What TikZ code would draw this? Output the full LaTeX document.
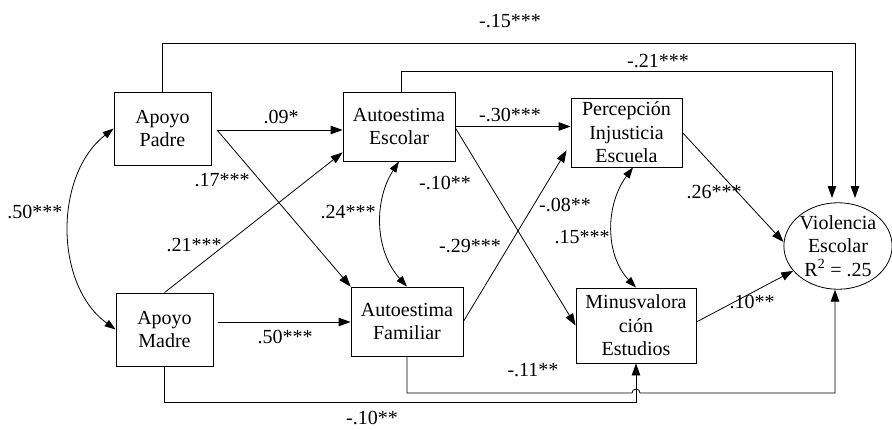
\documentclass[tikz,border=0pt]{standalone}
\usepackage{fontspec}
\setmainfont{Liberation Serif}
\usetikzlibrary{arrows.meta,calc,shapes.geometric}
\begin{document}
\begin{tikzpicture}[x=1pt,y=-1pt,
  txt/.style={font=\fontsize{20}{23.5}\selectfont},
  box/.style={draw, line width=0.8pt, align=center, inner sep=0pt, txt},
  lbl/.style={inner sep=0pt, txt},
  arr/.style={line width=0.8pt, -{Triangle[length=12pt,width=8.5pt]}},
  darr/.style={line width=0.8pt, {Triangle[length=11pt,width=7.5pt]}-{Triangle[length=11pt,width=7.5pt]}}
]
\useasboundingbox (0,0) rectangle (892,429);

% nodes
\node[box, minimum width=97pt, minimum height=73pt] (AP) at (162.5,128.5) {Apoyo\\Padre};
\node[box, minimum width=112pt, minimum height=69pt] (AE) at (399,126.5) {Autoestima\\Escolar};
\node[box, minimum width=111pt, minimum height=69pt] (PI) at (626.5,132.5) {Percepción\\Injusticia\\Escuela};
\node[box, minimum width=97pt, minimum height=73pt] (AM) at (164.5,329.5) {Apoyo\\Madre};
\node[box, minimum width=112pt, minimum height=69pt] (AF) at (407,321.5) {Autoestima\\Familiar};
\node[box, minimum width=120pt, minimum height=75pt] (MV) at (636,325.5) {Minusvalora\\ción\\Estudios};
\node[box, ellipse, minimum width=98pt, minimum height=82pt] (VE) at (838,246) {Violencia\\Escolar\\R\textsuperscript{2} = .25};

% helper coordinates
\coordinate (ap1) at (217,130);
\coordinate (am1) at (218,322);
\coordinate (t15) at (855,43);
\coordinate (e15) at (855,198);
\coordinate (t21) at (832,71);
\coordinate (e21) at (832,198);
\coordinate (b10) at (636,402);
\coordinate (hopL) at (632,393);
\coordinate (b11) at (835,393);

% straight paths
\draw[arr] (ap1) -- (ap1 -| AE.west);
\draw[arr] (ap1) -- (AF.north west);
\draw[arr] (am1) -- (am1 -| AF.west);
\draw[arr] (AM.north) -- ([yshift=9pt]AE.south west);
\draw[arr] (AE.east) -- (AE.east -| PI.west);
\draw[arr] ([yshift=-1.5pt]AE.east) -- (MV.west);
\draw[arr] (AF.east) -- ([xshift=-4pt,yshift=17pt]PI.south west);
\draw[arr] (PI.east) -- ([yshift=4pt]VE.west);
\draw[arr] ([yshift=3.5pt]MV.east) -- (VE.209);

% top paths
\draw[arr] (AP.north) |- (t15) -- (e15);
\draw[arr] ([xshift=2pt]AE.north) |- (t21) -- (e21);

% bottom paths
\draw[arr] (AM.south) |- (b10) -- (MV.south);
\draw[arr] (AF.south) |- (hopL) arc[start angle=180, end angle=0, radius=4pt] -- (b11) -- (b11 |- VE.south);

% correlations
\draw[darr] (AP.west) .. controls (54,175) and (54,285) .. (AM.west);
\draw[darr] (AE.south) .. controls (374,200) and (374,250) .. (AF.north);
\draw[darr] ([xshift=6.5pt]PI.south) .. controls (605,205) and (605,255) .. (MV.north);

% labels
\node[lbl] (l15) at (510,21) {-.15***};
\node[lbl] (l21) at (658,61) {-.21***};
\node[lbl] (l09) at (281,117) {.09*};
\node[lbl] (l17) at (222,180) {.17***};
\node[lbl] (l21b) at (194,245) {.21***};
\node[lbl] (l50a) at (35,212) {.50***};
\node[lbl] (l50b) at (285,337) {.50***};
\node[lbl] (l24) at (348,212) {.24***};
\node[lbl] (l10a) at (445,183) {-.10**};
\node[lbl] (l30) at (510,115) {-.30***};
\node[lbl] (l08) at (565,205) {-.08**};
\node[lbl] (l29) at (470,246) {-.29***};
\node[lbl] (l15b) at (582,237) {.15***};
\node[lbl] (l26) at (714,192) {.26***};
\node[lbl] (l10b) at (752,302) {.10**};
\node[lbl] (l11) at (533,370) {-.11**};
\node[lbl] (l10c) at (372,418) {-.10**};
\end{tikzpicture}
\end{document}
